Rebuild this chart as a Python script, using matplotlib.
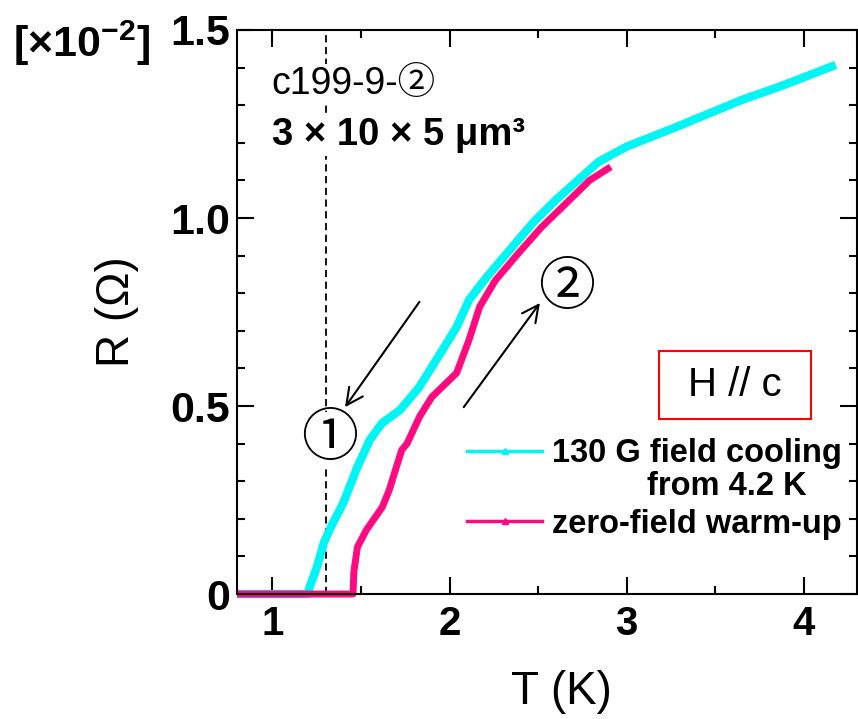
import matplotlib
matplotlib.use("Agg")
import matplotlib.pyplot as plt
from matplotlib.lines import Line2D
from matplotlib.patches import Rectangle

plt.rcParams['font.family'] = ['Liberation Sans', 'Noto Sans CJK JP', 'DejaVu Sans']
plt.rcParams['mathtext.fontset'] = 'custom'
plt.rcParams['mathtext.rm'] = 'Liberation Sans'
plt.rcParams['mathtext.bf'] = 'Liberation Sans:bold'

# 130 G field cooling from 4.2 K (cyan)
t_fc = [4.18, 3.89, 3.65, 3.28, 3.0, 2.84, 2.60, 2.47, 2.34, 2.21, 2.11, 2.04, 1.96,
        1.83, 1.72, 1.62, 1.55, 1.48, 1.40, 1.33, 1.29, 1.25, 1.21, 1.20, 0.8]
r_fc = [1.407, 1.354, 1.314, 1.242, 1.19, 1.149, 1.048, 0.987, 0.915, 0.843, 0.782, 0.71, 0.649,
        0.551, 0.489, 0.455, 0.41, 0.338, 0.242, 0.178, 0.136, 0.07, 0.018, 0.0, 0.0]

# zero-field warm-up (magenta)
t_zf = [0.8, 1.455, 1.46, 1.48, 1.53, 1.62, 1.66, 1.70, 1.73, 1.76, 1.83, 1.90,
        2.04, 2.11, 2.17, 2.26, 2.39, 2.52, 2.66, 2.79, 2.91]
r_zf = [0.0, 0.0, 0.06, 0.125, 0.17, 0.231, 0.277, 0.338, 0.383, 0.40, 0.471, 0.524,
        0.588, 0.676, 0.764, 0.835, 0.907, 0.976, 1.04, 1.10, 1.136]

x_ticks = [1, 2, 3, 4]
y_ticks = [0, 0.5, 1.0, 1.5]
y_ticklabels = ['0', '0.5', '1.0', '1.5']

cyan = '#00F5F5'
magenta = '#FF0A80'

fig = plt.figure(figsize=(8.58, 7.19), dpi=100)
ax = fig.add_axes([0.2762, 0.1738, 0.7226, 0.7845])

ax.plot(t_fc, r_fc, color=cyan, lw=6, solid_capstyle='butt', solid_joinstyle='round',
        clip_on=False, zorder=3)
ax.plot(t_zf, r_zf, color=magenta, lw=5, solid_capstyle='butt', solid_joinstyle='round',
        clip_on=False, zorder=4)

ax.set_xlim(0.8, 4.3)
ax.set_ylim(0, 1.5)
ax.set_xticks(x_ticks)
ax.set_xticks([1.5, 2.5, 3.5], minor=True)
ax.set_yticks(y_ticks)
ax.set_yticklabels(y_ticklabels)
ax.set_yticks([0.1, 0.2, 0.3, 0.4, 0.6, 0.7, 0.8, 0.9, 1.1, 1.2, 1.3, 1.4], minor=True)
ax.tick_params(which='both', direction='in', top=True, right=True, width=1.5)
ax.tick_params(which='major', length=12, pad=5)
ax.tick_params(which='minor', length=6)
ax.tick_params(axis='y', labelsize=31)
ax.tick_params(axis='x', labelsize=29, pad=8)
for lab in ax.get_xticklabels() + ax.get_yticklabels():
    lab.set_fontweight('bold')
for sp in ax.spines.values():
    sp.set_linewidth(1.5)
    sp.set_zorder(5)

ax.set_xlabel('T (K)', fontsize=33)
ax.xaxis.set_label_coords(0.524, -0.135)
ax.set_ylabel('R (Ω)', fontsize=33)
ax.yaxis.set_label_coords(-0.158, 0.5)

fig.text(0.095, 0.94, r'$\mathbf{[\times10^{-2}]}$', fontsize=31, ha='center', va='center')

# dashed marker line at 1.3 K
ax.axvline(1.3, color='black', lw=1.3, ls=(0, (4, 2.5)), zorder=2)

ax.text(0.056, 0.904, 'c199-9-②', transform=ax.transAxes, fontsize=27, va='center',
        bbox=dict(facecolor='white', edgecolor='none', pad=2), zorder=2.5)
ax.text(0.056, 0.814, '3 × 10 × 5 μm³', transform=ax.transAxes, fontsize=27.5,
        fontweight='bold', va='center',
        bbox=dict(facecolor='white', edgecolor='none', pad=2), zorder=2.5)

ax.text(1.32, 0.41, '①', fontsize=41, ha='center', va='center',
        bbox=dict(facecolor='white', edgecolor='none', pad=1), zorder=2.5)
ax.text(2.66, 0.81, '②', fontsize=41, ha='center', va='center', zorder=2.5)

ax.annotate('', xy=(1.41, 0.497), xytext=(1.83, 0.777),
            arrowprops=dict(arrowstyle='->', lw=1.5, color='black', mutation_scale=30,
                            shrinkA=0, shrinkB=0))
ax.annotate('', xy=(2.51, 0.774), xytext=(2.08, 0.497),
            arrowprops=dict(arrowstyle='->', lw=1.5, color='black', mutation_scale=30,
                            shrinkA=0, shrinkB=0))

# H // c box
ax.add_patch(Rectangle((0.681, 0.310), 0.245, 0.121, transform=ax.transAxes,
                       facecolor='white', edgecolor='red', lw=1.5, zorder=5))
ax.text(0.8035, 0.3705, 'H // c', transform=ax.transAxes, fontsize=29,
        ha='center', va='center', zorder=6)

handles = [Line2D([], [], color=cyan, lw=2.5, marker='^', ms=5),
           Line2D([], [], color=magenta, lw=2.5, marker='^', ms=5)]
leg = ax.legend(handles, ['130 G field cooling', 'zero-field warm-up'],
                loc='upper left', bbox_to_anchor=(0.371, 0.276), frameon=False,
                prop=dict(size=23.5, weight='bold'), borderpad=0, borderaxespad=0,
                handlelength=2.3, handletextpad=0.3, labelspacing=1.2, numpoints=1)
ax.text(0.661, 0.190, 'from 4.2 K', transform=ax.transAxes, fontsize=23.5,
        fontweight='bold', va='center')

fig.savefig('out.png', dpi=100)
